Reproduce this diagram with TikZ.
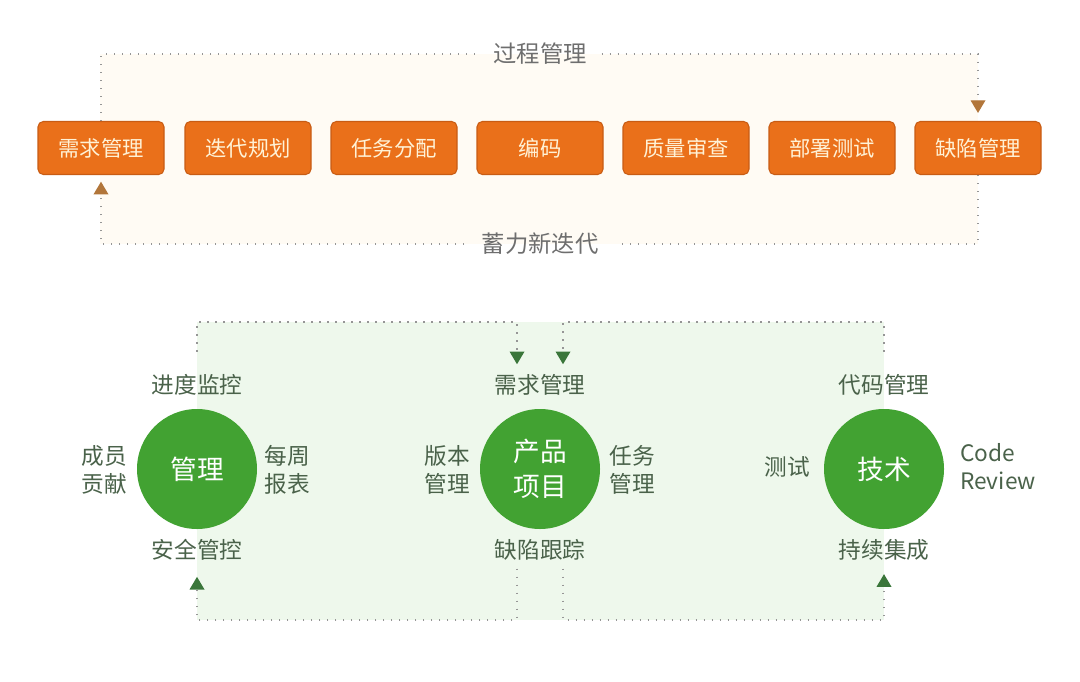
\documentclass[tikz,border=0pt]{standalone}
\usepackage{fontspec}
\setmainfont{Noto Sans CJK SC}
\definecolor{stagefill}{RGB}{234,112,26}
\definecolor{stageline}{RGB}{200,92,20}
\definecolor{stagetext}{RGB}{255,242,214}
\definecolor{hubgreen}{RGB}{66,162,50}
\definecolor{sidetext}{RGB}{74,98,74}
\definecolor{looptext}{RGB}{110,110,110}
\definecolor{dotgray}{RGB}{150,150,150}
\definecolor{topwash}{RGB}{255,251,244}
\definecolor{lowwash}{RGB}{238,248,236}
\definecolor{toparrow}{RGB}{178,118,58}
\definecolor{lowarrow}{RGB}{58,118,58}
\usetikzlibrary{arrows.meta}
\tikzset{
  stage/.style={draw=stageline,line width=0.8pt,rounded corners=4pt,fill=stagefill,
                text=stagetext,minimum width=94.5pt,minimum height=39.75pt,inner sep=0pt,
                font=\fontsize{16}{19}\selectfont},
  hub/.style={circle,fill=hubgreen,text=white,minimum size=90pt,inner sep=0pt,align=center,
              font=\fontsize{20}{26}\selectfont},
  side/.style={text=sidetext,inner sep=0pt,align=center,font=\fontsize{17}{21}\selectfont},
  looplbl/.style={text=looptext,inner ysep=0pt,inner xsep=11pt,font=\fontsize{17.5}{21}\selectfont},
  loopline/.style={draw=dotgray,line width=1pt,dash pattern=on 1pt off 5pt},
  toptip/.style={-{Triangle[width=11pt,length=9.5pt,color=toparrow]}},
  lowtip/.style={-{Triangle[width=11pt,length=9.5pt,color=lowarrow]}},
}
\begin{document}
\begin{tikzpicture}[x=0.75pt,y=-0.75pt]
    \useasboundingbox (0,0) rectangle (1080,681);
    \fill[topwash] (100,54) rectangle (978,244);
    \fill[lowwash] (197,322) rectangle (884,620);
    \node[stage] (req) at (101,148) {需求管理};
    \node[stage] (iter) at (248,148) {迭代规划};
    \node[stage] (task) at (394,148) {任务分配};
    \node[stage] (code) at (540,148) {编码};
    \node[stage] (qa) at (686,148) {质量审查};
    \node[stage] (deploy) at (832,148) {部署测试};
    \node[stage] (bug) at (978,148) {缺陷管理};
    \node[looplbl] (proc) at (540,54) {过程管理};
    \node[looplbl,inner xsep=13pt] (renew) at (540,244) {蓄力新迭代};
    \draw[loopline] (req.north) -- (req.north |- proc.west) -- (proc.west);
    \draw[loopline,toptip,shorten >=6pt] (proc.east) -- (proc.east -| bug.north) -- (bug.north);
    \draw[loopline] (bug.south) -- (bug.south |- renew.east) -- (renew.east);
    \draw[loopline,toptip,shorten >=5pt] (renew.west) -- (renew.west -| req.south) -- (req.south);
    \node[hub] (mgmt) at (197,469) {管理};
    \node[hub] (prod) at (540,469) {产品\\项目};
    \node[hub] (tech) at (884,469) {技术};
    \node[side] (mgmtN) at (197,385) {进度监控};
    \node[side] (mgmtS) at (197,550) {安全管控};
    \node[side] (mgmtW) at (104,470) {成员\\贡献};
    \node[side] (mgmtE) at (287,470) {每周\\报表};
    \node[side] (prodN) at (540,385) {需求管理};
    \node[side] (prodS) at (540,550) {缺陷跟踪};
    \node[side] (prodW) at (447,470) {版本\\管理};
    \node[side] (prodE) at (632,470) {任务\\管理};
    \node[side] (techN) at (884,385) {代码管理};
    \node[side] (techS) at (884,550) {持续集成};
    \node[side] (techW) at (787,467) {测试};
    \node[side,align=left] (techE) at (998,467) {Code\\Review};
    \coordinate (ul) at (197,322); \coordinate (um1) at (517,322);
    \coordinate (um2) at (563,322); \coordinate (ur) at (884,322);
    \coordinate (dl) at (197,620); \coordinate (dm1) at (517,620);
    \coordinate (dm2) at (563,620); \coordinate (dr) at (884,620);
    \draw[loopline,lowtip,shorten <=17pt,shorten >=7.5pt] (mgmtN.north) -- (ul) -- (um1) -- (um1 |- prodN.north);
    \draw[loopline,lowtip,shorten <=17pt,shorten >=7.5pt] (techN.north) -- (ur) -- (um2) -- (um2 |- prodN.north);
    \draw[loopline,lowtip,shorten <=6pt,shorten >=12pt] (dm1 |- prodS.south) -- (dm1) -- (dl) -- (mgmtS.south);
    \draw[loopline,lowtip,shorten <=6pt,shorten >=10pt] (dm2 |- prodS.south) -- (dm2) -- (dr) -- (techS.south);
\end{tikzpicture}
\end{document}
